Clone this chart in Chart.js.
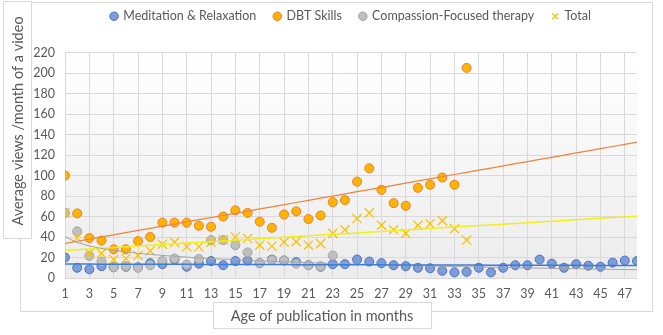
<!DOCTYPE html>
<html>
<head>
<meta charset="utf-8">
<script src="https://cdn.jsdelivr.net/npm/chart.js@4.4.1/dist/chart.umd.min.js"></script>
<style>
  html, body { margin: 0; padding: 0; background: #fff; }
</style>
</head>
<body>
<canvas id="chart" width="663" height="335"></canvas>
<script>
// months since publication (x categories) and the odd tick labels
const months = [1, 2, 3, 4, 5, 6, 7, 8, 9, 10, 11, 12, 13, 14, 15, 16, 17, 18, 19, 20, 21, 22, 23, 24,
  25, 26, 27, 28, 29, 30, 31, 32, 33, 34, 35, 36, 37, 38, 39, 40, 41, 42, 43, 44, 45, 46, 47, 48];
const xTicks = [1, 3, 5, 7, 9, 11, 13, 15, 17, 19, 21, 23, 25, 27, 29, 31, 33, 35, 37, 39, 41, 43, 45, 47];

// average views / month per video
const meditation = [20, 10, 8.5, 11.5, 10.5, 11, 10.5, 14.5, 13.5, 18, 11, 14, 16.5, 12.5, 16.5, 17, 14.5, 18, 17, 15.5,
  12.5, 11, 13.5, 13.5, 18, 16, 14.5, 12.5, 11.5, 10, 9.5, 7, 5.5, 6, 10, 5.5, 10, 12.5, 12.5, 18,
  14, 10, 13.5, 12, 11, 15, 17, 16.5];
const dbt = [100, 63, 39, 36.5, 28, 28, 36, 40, 54, 54, 54, 51, 50, 60, 66, 63.5, 55, 49, 62, 65,
  57.5, 61, 74, 76, 94, 107, 86, 73, 70.5, 88, 91, 98, 91, 205];
const compassion = [63.5, 45.5, 21.5, 16, 10.5, 11.5, 10, 12.5, 16.5, 19, 13, 18.5, 37, 37, 32, 25, 14.5, 17.5, 17, 14,
  12.5, 11.5, 22];
const total = [63.5, 39, 24, 24, 18, 19, 22, 26.5, 33, 35, 30.5, 30.5, 35, 37.5, 40, 38.5, 32, 31, 35, 35.5,
  32, 33.5, 43.5, 47, 58, 63.5, 51.5, 47, 43.5, 51.5, 53, 56, 48, 37];

const yTitle = 'Average views /month of a video';
const xTitle = 'Age of publication in months';

const TEXT = '#595959';
const GRID = '#d9d9d9';

function toPoints(values) {
  return values.map((v, i) => ({ x: months[i], y: v }));
}

// least squares fit, like Excel's trendlines (linear / logarithmic)
function fit(values, useLog) {
  const tx = x => (useLog ? Math.log(x) : x);
  const pts = values.map((v, i) => [tx(months[i]), v]).filter(p => p[1] != null);
  const n = pts.length;
  const mx = pts.reduce((s, p) => s + p[0], 0) / n;
  const my = pts.reduce((s, p) => s + p[1], 0) / n;
  let sxy = 0, sxx = 0;
  pts.forEach(([x, y]) => { sxy += (x - mx) * (y - my); sxx += (x - mx) * (x - mx); });
  const b = sxy / sxx;
  const a = my - b * mx;
  return months.map(m => ({ x: m, y: a + b * tx(m) }));
}

function trend(values, color, width, useLog) {
  return {
    label: 'trend',
    data: fit(values, useLog),
    showLine: true,
    pointRadius: 0,
    pointHoverRadius: 0,
    borderColor: color,
    borderWidth: width,
    order: 0
  };
}

const frame = {
  id: 'frame',
  beforeDraw(chart) {
    const { ctx, chartArea: a } = chart;
    ctx.save();
    ctx.fillStyle = '#fff';
    ctx.fillRect(0, 0, chart.width, chart.height);
    ctx.strokeStyle = GRID;
    ctx.lineWidth = 1;
    ctx.strokeRect(20.5, 2.5, 632, 309);
    const g = ctx.createLinearGradient(0, a.top, 0, a.bottom);
    g.addColorStop(0, '#ffffff');
    g.addColorStop(1, '#ececec');
    ctx.fillStyle = g;
    ctx.fillRect(a.left, a.top, a.right - a.left, a.bottom - a.top);
    ctx.restore();
  },
  afterDraw(chart) {
    const ctx = chart.ctx;
    ctx.save();
    ctx.fillStyle = '#fff';
    ctx.strokeStyle = GRID;
    ctx.lineWidth = 1;
    // y axis title box
    ctx.fillRect(3.5, 1.5, 28, 237);
    ctx.strokeRect(3.5, 1.5, 28, 237);
    // x axis title box
    ctx.fillStyle = '#fff';
    ctx.fillRect(213.5, 302.5, 218, 26);
    ctx.strokeRect(213.5, 302.5, 218, 26);
    ctx.fillStyle = TEXT;
    ctx.font = '14.5px Lato';
    ctx.textAlign = 'center';
    ctx.textBaseline = 'middle';
    ctx.fillText(xTitle, 322, 316);
    ctx.translate(18, 121);
    ctx.rotate(-Math.PI / 2);
    ctx.fillText(yTitle, 0, 0);
    ctx.restore();
  }
};

const legendGap = {
  id: 'legendGap',
  beforeInit(chart) {
    const fitLegend = chart.legend.fit;
    chart.legend.fit = function () {
      fitLegend.call(this);
      this.height += 20;
    };
  }
};

Chart.defaults.font.family = 'Lato';
Chart.defaults.color = TEXT;

new Chart(document.getElementById('chart'), {
  type: 'scatter',
  data: {
    datasets: [
      {
        label: 'Meditation & Relaxation',
        data: toPoints(meditation),
        pointStyle: 'circle',
        pointRadius: 4.5,
        backgroundColor: '#7f9bd8',
        borderColor: '#4a72c4',
        borderWidth: 1,
        order: 4
      },
      {
        label: 'DBT Skills',
        data: toPoints(dbt),
        pointStyle: 'circle',
        pointRadius: 4.5,
        backgroundColor: '#ffb400',
        borderColor: '#ed7d31',
        borderWidth: 1,
        order: 3
      },
      {
        label: 'Compassion-Focused therapy',
        data: toPoints(compassion),
        pointStyle: 'circle',
        pointRadius: 4.5,
        backgroundColor: '#bfbfbf',
        borderColor: '#a5a5a5',
        borderWidth: 1,
        order: 2
      },
      {
        label: 'Total',
        data: toPoints(total),
        pointStyle: 'crossRot',
        pointRadius: 6.5,
        backgroundColor: '#ffc000',
        borderColor: '#ffc000',
        borderWidth: 1.25,
        order: 1
      },
      trend(meditation, '#3b7dd8', 1.5, false),
      trend(dbt, '#f0843c', 1.25, false),
      trend(compassion, '#a5a5a5', 1, true),
      trend(total, '#f2ee1a', 1.5, false)
    ]
  },
  options: {
    responsive: false,
    animation: false,
    layout: { padding: { top: -8, right: 26, bottom: 0, left: 0 } },
    plugins: {
      tooltip: { enabled: false },
      legend: {
        position: 'top',
        fullSize: false,
        labels: {
          usePointStyle: true,
          boxWidth: 6,
          boxHeight: 6,
          padding: 18,
          font: { size: 12.5 },
          color: TEXT,
          filter: item => item.text !== 'trend',
          sort: (a, b) => a.datasetIndex - b.datasetIndex
        }
      }
    },
    scales: {
      x: {
        type: 'linear',
        min: 1,
        max: 48,
        afterBuildTicks: scale => { scale.ticks = xTicks.map(v => ({ value: v })); },
        afterFit: scale => { scale.height = 57; },
        grid: { color: GRID, drawTicks: false },
        border: { color: GRID },
        ticks: { padding: 8, font: { size: 12.5 }, color: TEXT, maxRotation: 0, autoSkip: false }
      },
      y: {
        min: 0,
        max: 220,
        afterFit: scale => { scale.width = 65; },
        grid: { color: GRID, drawTicks: false },
        border: { color: GRID },
        ticks: { stepSize: 20, padding: 10, font: { size: 12.5 }, color: TEXT }
      }
    }
  },
  plugins: [frame, legendGap]
});
</script>
</body>
</html>
